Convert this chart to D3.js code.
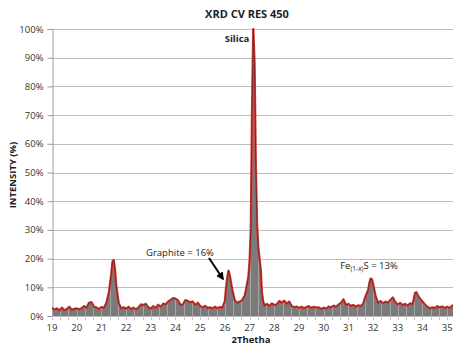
<!DOCTYPE html>
<html>
<head>
<meta charset="utf-8">
<script src="https://cdn.jsdelivr.net/npm/d3@7"></script>
<style>
  html, body { margin: 0; padding: 0; background: #fff; }
  svg { display: block; font-family: "Open Sans", "Liberation Sans", sans-serif; }
</style>
</head>
<body>
<svg id="chart" width="453" height="345"></svg>
<script>
const WIDTH = 453;
const HEIGHT = 345;

// 2-theta (deg) and intensity (%)
const scan = [
  [19.0, 2.8], [19.1, 2.2], [19.2, 2.6], [19.3, 1.9], [19.4, 2.9], [19.5, 2.0],
  [19.6, 2.4], [19.7, 3.2], [19.8, 2.1], [19.9, 2.5], [20.0, 2.6], [20.1, 2.3],
  [20.2, 2.7], [20.3, 3.4], [20.4, 2.9], [20.5, 4.6], [20.6, 4.8], [20.7, 3.2],
  [20.8, 3.0], [20.9, 2.4], [21.0, 3.1], [21.1, 2.8], [21.2, 4.5], [21.3, 8.0],
  [21.4, 14.5], [21.45, 19.0], [21.5, 19.5], [21.55, 16.0], [21.6, 10.5], [21.7, 4.5],
  [21.8, 2.6], [21.9, 3.0], [22.0, 2.5], [22.1, 3.2], [22.2, 2.4], [22.3, 2.9],
  [22.4, 2.2], [22.5, 3.0], [22.6, 4.0], [22.7, 3.8], [22.8, 4.2], [22.9, 3.0],
  [23.0, 2.6], [23.1, 3.4], [23.2, 2.8], [23.3, 3.9], [23.4, 3.2], [23.5, 4.3],
  [23.6, 4.0], [23.7, 5.0], [23.8, 5.6], [23.9, 6.2], [24.0, 6.0], [24.1, 5.5],
  [24.2, 3.8], [24.3, 4.0], [24.4, 5.5], [24.5, 5.2], [24.6, 4.8], [24.7, 5.0],
  [24.8, 3.8], [24.9, 4.6], [25.0, 3.4], [25.1, 3.0], [25.2, 3.5], [25.3, 2.8],
  [25.4, 3.0], [25.5, 2.6], [25.6, 3.2], [25.7, 2.7], [25.8, 3.1], [25.9, 2.9],
  [26.0, 5.2], [26.05, 10.0], [26.1, 13.5], [26.15, 15.8], [26.2, 14.0], [26.3, 9.0],
  [26.4, 5.4], [26.5, 4.6], [26.6, 5.0], [26.7, 5.5], [26.8, 7.0], [26.85, 9.0],
  [26.95, 13.5], [27.0, 19.0], [27.05, 30.0], [27.1, 72.0], [27.15, 100.0], [27.2, 88.0],
  [27.25, 53.0], [27.3, 32.0], [27.35, 24.0], [27.4, 20.0], [27.45, 16.0], [27.5, 8.0],
  [27.55, 5.0], [27.6, 3.6], [27.7, 4.2], [27.8, 3.5], [27.9, 4.4], [28.0, 3.8],
  [28.1, 4.0], [28.2, 5.2], [28.3, 4.6], [28.4, 5.3], [28.5, 4.2], [28.6, 5.0],
  [28.7, 3.5], [28.8, 3.0], [28.9, 3.3], [29.0, 2.8], [29.1, 3.2], [29.2, 2.7],
  [29.3, 3.1], [29.4, 3.4], [29.5, 2.8], [29.6, 3.2], [29.7, 2.9], [29.8, 3.0],
  [29.9, 2.4], [30.0, 2.9], [30.1, 2.5], [30.2, 3.3], [30.3, 3.0], [30.4, 3.6],
  [30.5, 3.2], [30.6, 4.0], [30.7, 4.5], [30.8, 5.8], [30.9, 3.8], [31.0, 4.2],
  [31.1, 3.5], [31.2, 3.8], [31.3, 3.2], [31.4, 3.7], [31.5, 3.4], [31.6, 4.2],
  [31.7, 7.0], [31.8, 9.0], [31.85, 11.5], [31.9, 13.0], [31.95, 12.8], [32.0, 11.0],
  [32.1, 7.0], [32.2, 4.5], [32.3, 5.2], [32.4, 4.4], [32.5, 5.0], [32.6, 4.6],
  [32.7, 5.6], [32.8, 6.4], [32.9, 4.8], [33.0, 4.0], [33.1, 4.5], [33.2, 3.8],
  [33.3, 4.2], [33.4, 3.6], [33.5, 4.4], [33.6, 4.0], [33.7, 8.0], [33.75, 8.3],
  [33.8, 7.4], [33.9, 6.0], [34.0, 5.0], [34.1, 4.0], [34.2, 3.2], [34.3, 2.6],
  [34.4, 3.0], [34.5, 2.7], [34.6, 3.4], [34.7, 3.0], [34.8, 3.3], [34.9, 2.8],
  [35.0, 3.2], [35.1, 2.7], [35.2, 3.6], [35.3, 3.8]
];

const xTickValues = d3.range(19, 36);
const yTickValues = [0, 10, 20, 30, 40, 50, 60, 70, 80, 90, 100];
const minorStep = 1 / 3;

const annotations = [
  { text: "Silica", x: 237, y: 38.5, bold: true },
  { text: "Graphite = 16%", x: 180, y: 253, bold: false }
];

const margin = { top: 29, right: 0, bottom: 29, left: 52 };
const innerW = WIDTH - margin.left - margin.right;
const innerH = HEIGHT - margin.top - margin.bottom;

const svg = d3.select("#chart");

const x = d3.scaleLinear().domain([19, 19 + innerW / 24.7]).range([0, innerW]);
const y = d3.scaleLinear().domain([0, 100]).range([innerH, 0]);

const defs = svg.append("defs");
defs.append("clipPath").attr("id", "plot-clip")
  .append("rect").attr("width", innerW).attr("height", innerH + 1).attr("y", -1);

const area = d3.area()
  .x((d) => x(d[0]))
  .y0(innerH)
  .y1((d) => y(Math.min(d[1], 100)));

const line = d3.line()
  .x((d) => x(d[0]))
  .y((d) => y(Math.min(d[1], 100)));

defs.append("clipPath").attr("id", "area-clip")
  .append("path").attr("d", area(scan));

defs.append("marker")
  .attr("id", "arrowhead")
  .attr("viewBox", "0 -5 10 10")
  .attr("refX", 8)
  .attr("refY", 0)
  .attr("markerWidth", 4)
  .attr("markerHeight", 4)
  .attr("orient", "auto")
  .append("path")
  .attr("d", "M0,-5L10,0L0,5Z")
  .attr("fill", "#000");

// title
svg.append("text")
  .attr("x", 247).attr("y", 18)
  .attr("text-anchor", "middle")
  .attr("font-size", 11).attr("font-weight", "bold")
  .attr("fill", "#222")
  .text("XRD CV RES 450");

const g = svg.append("g").attr("transform", `translate(${margin.left},${margin.top})`);

// horizontal gridlines
g.append("g")
  .selectAll("line")
  .data(yTickValues.filter((v) => v > 0))
  .join("line")
  .attr("x1", 0).attr("x2", innerW)
  .attr("y1", (d) => Math.round(y(d)) + 0.5).attr("y2", (d) => Math.round(y(d)) + 0.5)
  .attr("stroke", "#bdbdbd");

// y axis
const yAxis = g.append("g")
  .attr("transform", "translate(0.5,0)")
  .call(d3.axisLeft(y).tickValues(yTickValues).tickSize(5).tickPadding(4).tickFormat((d) => d + "%"));
yAxis.select(".domain").attr("stroke", "#9a9a9a");
yAxis.selectAll(".tick line").attr("stroke", "#9a9a9a");
yAxis.selectAll(".tick text")
  .attr("font-size", 9.5).attr("fill", "#333")
  .attr("font-family", "'Open Sans', 'Liberation Sans', sans-serif");

const plot = g.append("g").attr("clip-path", "url(#plot-clip)");

// grey filled scan
plot.append("path")
  .datum(scan)
  .attr("d", area)
  .attr("fill", "#7b7b7b");

// faint vertical separators inside the fill
const minorTicks = d3.range(19, 35.4, minorStep);
plot.append("g")
  .attr("clip-path", "url(#area-clip)")
  .selectAll("line")
  .data(minorTicks)
  .join("line")
  .attr("x1", (d) => Math.round(x(d)) + 0.5).attr("x2", (d) => Math.round(x(d)) + 0.5)
  .attr("y1", 0).attr("y2", innerH)
  .attr("stroke", "#a4a4a4").attr("stroke-width", 1);

// red trace with darker core
plot.append("path")
  .datum(scan)
  .attr("d", line)
  .attr("fill", "none")
  .attr("stroke", "#d0413c")
  .attr("stroke-width", 2.4)
  .attr("stroke-linejoin", "round");
plot.append("path")
  .datum(scan)
  .attr("d", line)
  .attr("fill", "none")
  .attr("stroke", "#6e1c1c")
  .attr("stroke-width", 0.8)
  .attr("stroke-linejoin", "round");

// x axis with minor ticks
const xAxisG = g.append("g").attr("transform", `translate(0,${innerH})`);
xAxisG.append("line")
  .attr("x1", 0).attr("x2", innerW)
  .attr("y1", 0.5).attr("y2", 0.5)
  .attr("stroke", "#bdbdbd");
xAxisG.append("g")
  .selectAll("line")
  .data(minorTicks)
  .join("line")
  .attr("x1", (d) => Math.round(x(d)) + 0.5).attr("x2", (d) => Math.round(x(d)) + 0.5)
  .attr("y1", 0).attr("y2", 4)
  .attr("stroke", "#c4c4c4");
xAxisG.append("g")
  .selectAll("text")
  .data(xTickValues)
  .join("text")
  .attr("x", (d) => x(d))
  .attr("y", 14.5)
  .attr("text-anchor", "middle")
  .attr("font-size", 9.5)
  .attr("fill", "#333")
  .text((d) => d);

// axis titles
svg.append("text")
  .attr("x", 251).attr("y", 343)
  .attr("text-anchor", "middle")
  .attr("font-size", 9.5).attr("font-weight", "bold")
  .attr("fill", "#222")
  .text("2Thetha");

svg.append("text")
  .attr("transform", "translate(16,175) rotate(-90)")
  .attr("text-anchor", "middle")
  .attr("font-size", 9.5).attr("font-weight", "bold")
  .attr("fill", "#222")
  .text("INTENSITY (%)");

// annotations
svg.append("g")
  .selectAll("text")
  .data(annotations)
  .join("text")
  .attr("x", (d) => d.x).attr("y", (d) => d.y)
  .attr("dy", "0.35em")
  .attr("text-anchor", "middle")
  .attr("font-size", 9.5)
  .attr("font-weight", (d) => (d.bold ? "bold" : "normal"))
  .attr("fill", "#222")
  .text((d) => d.text);

const fe = svg.append("text")
  .attr("x", 369).attr("y", 266)
  .attr("dy", "0.35em")
  .attr("text-anchor", "middle")
  .attr("font-size", 9.5)
  .attr("fill", "#222");
fe.append("tspan").text("Fe");
fe.append("tspan").attr("font-size", 6.5).attr("dy", "2").text("(1-x)");
fe.append("tspan").attr("dy", "-2").text("S = 13%");

// arrow to graphite peak
svg.append("line")
  .attr("x1", 209).attr("y1", 258)
  .attr("x2", 223).attr("y2", 279)
  .attr("stroke", "#000")
  .attr("stroke-width", 2)
  .attr("marker-end", "url(#arrowhead)");
</script>
</body>
</html>
